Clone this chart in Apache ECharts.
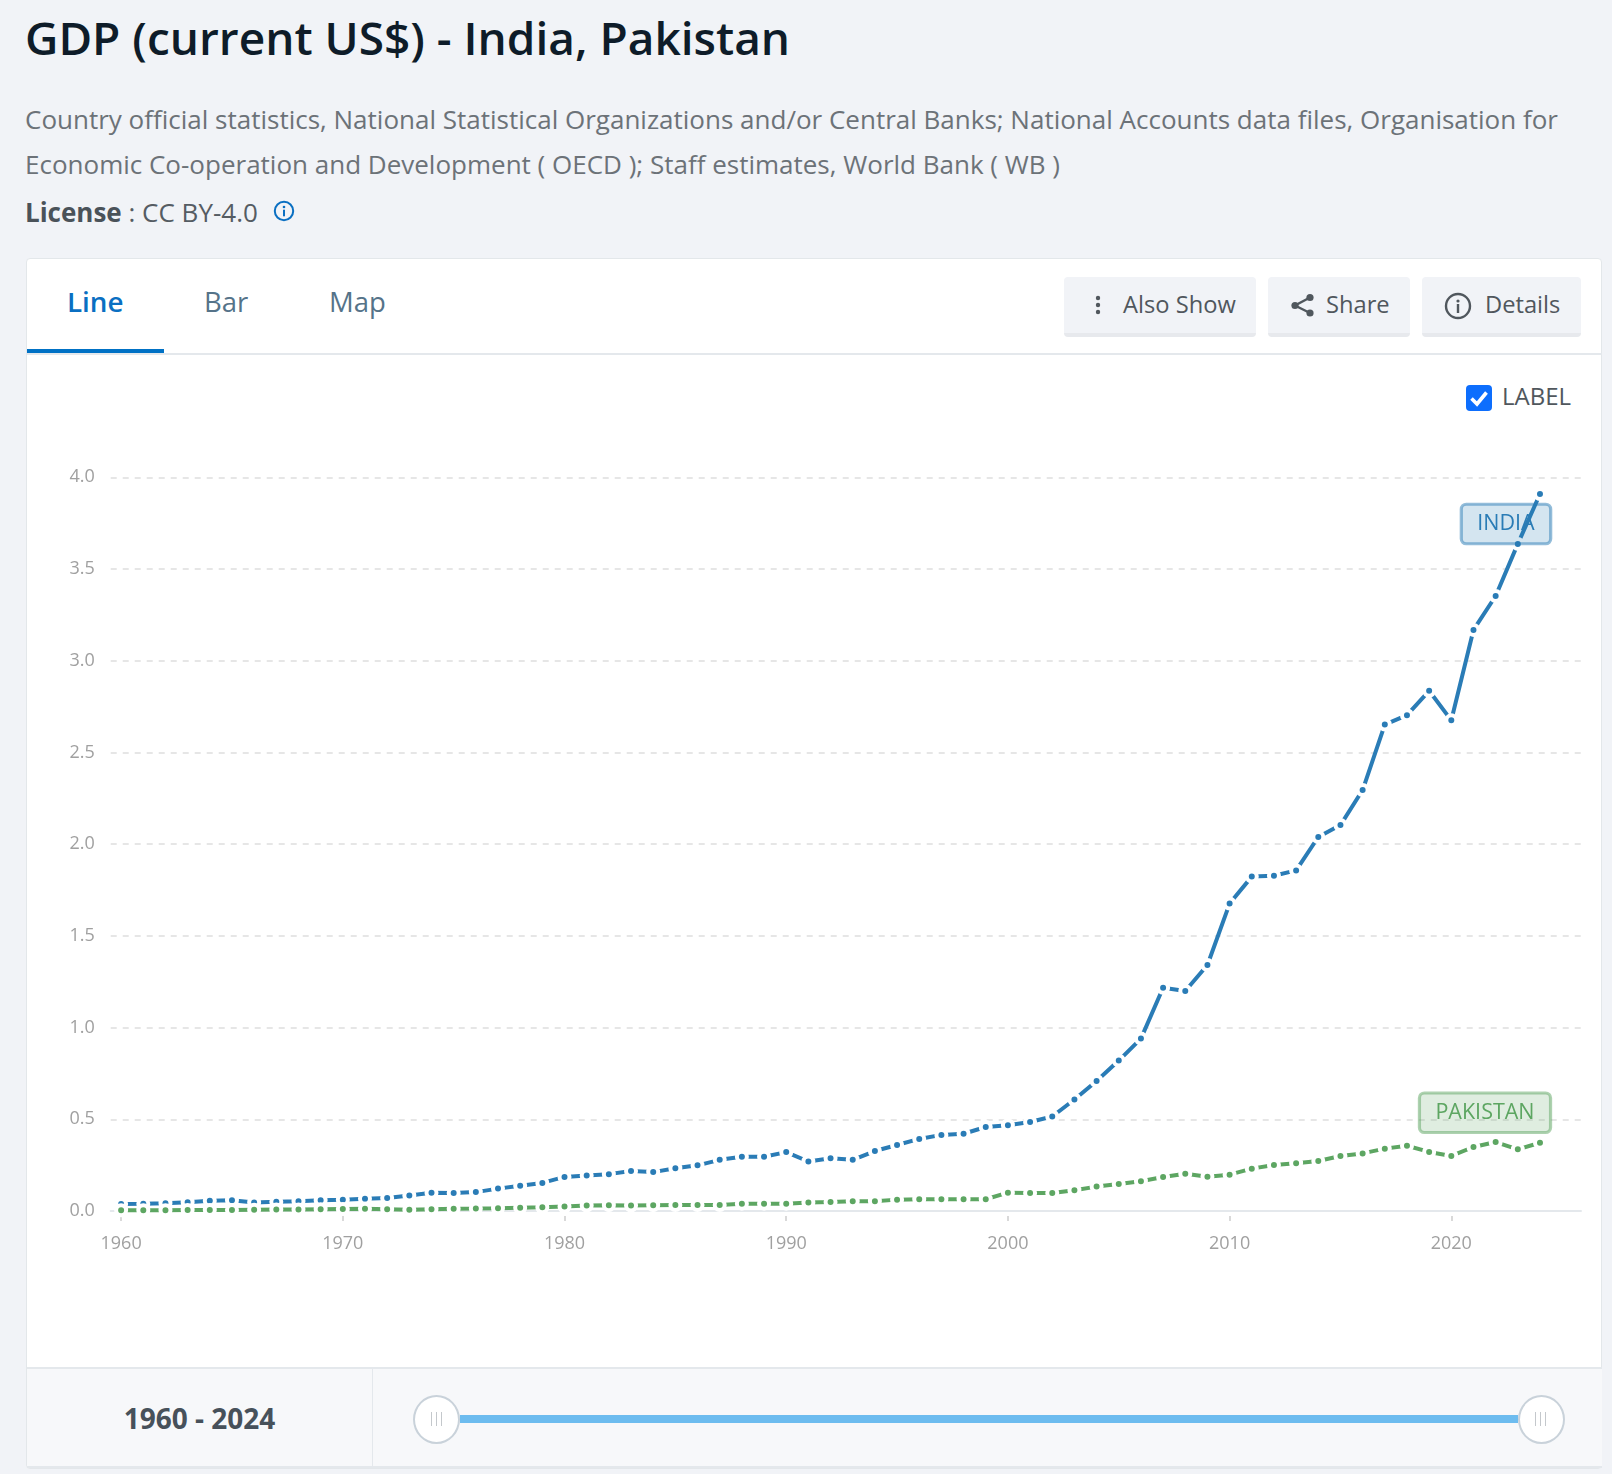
<!DOCTYPE html>
<html><head><meta charset="utf-8">
<style>
*{box-sizing:border-box}
html,body{margin:0;padding:0;width:1612px;height:1474px;overflow:hidden;background:#f1f3f7;font-family:"Open Sans",sans-serif}
.a{position:absolute;white-space:nowrap}
#title{left:25px;top:6px;font-size:46px;line-height:62px;font-weight:600;color:#0e1c29}
.src{left:25px;font-size:26px;line-height:36px;color:#6c7278}
#lic{left:25px;top:194px;font-size:26px;line-height:36px;color:#555c63}
#lic b{font-weight:700;color:#4a5259}
#card{left:26px;top:258px;width:1576px;height:1211px;background:#fff;border:1px solid #e3e7ea;border-radius:4px}
#tabline{left:27px;top:353px;width:1575px;height:2px;background:#e4e8ec}
#under{left:27px;top:349px;width:137px;height:4px;background:#0071c5}
.tab{top:283px;font-size:27.5px;line-height:38px;color:#557389}
.btn{top:277px;height:60px;background:#f1f3f7;border-bottom:4px solid #e7e9ed;border-radius:4px}
.bt{top:286px;font-size:23.7px;line-height:36px;color:#50575d}
#foot{left:27px;top:1367px;width:1575px;height:101px;background:#f7f8fa;border-top:2px solid #e4e8ec;border-bottom:2px solid #e4e8ec}
#fdiv{left:372px;top:1368px;width:1px;height:99px;background:#e4e8ec}
#range{left:27px;width:345px;text-align:center;top:1399px;font-size:28px;line-height:38px;font-weight:700;color:#47515a}
#track{left:460px;top:1415px;width:1058px;height:8px;background:#6dbcef}
.h{top:1395px;width:47px;height:49px;background:#fff;border:2px solid #c9d2da;border-radius:50%}
.g{top:1412px;width:1px;height:14px;background:#c4c8cc}
#chart{position:absolute;left:0;top:0;width:1612px;height:1474px}
</style></head><body>
<div class="a" id="title">GDP (current US$) - India, Pakistan</div>
<div class="a src" style="top:101px">Country official statistics, National Statistical Organizations and/or Central Banks; National Accounts data files, Organisation for</div>
<div class="a src" style="top:146px">Economic Co-operation and Development ( OECD ); Staff estimates, World Bank ( WB )</div>
<div class="a" id="lic"><b>License</b> : CC BY-4.0</div>
<svg class="a" style="left:273px;top:200px" width="22" height="22" viewBox="0 0 22 22"><circle cx="11" cy="11" r="9.2" fill="none" stroke="#0a6fc2" stroke-width="2"/><circle cx="11" cy="7" r="1.3" fill="#0a6fc2"/><rect x="10" y="9.7" width="2" height="6.6" fill="#0a6fc2"/></svg>
<div class="a" id="card"></div>
<div class="a" id="tabline"></div><div class="a" id="under"></div>
<div class="a tab" style="left:67px;top:282px;color:#0a6fc2;font-weight:600;font-size:27.8px">Line</div>
<div class="a tab" style="left:204px">Bar</div>
<div class="a tab" style="left:329px">Map</div>
<div class="a btn" style="left:1064px;width:192px"></div>
<div class="a btn" style="left:1268px;width:142px"></div>
<div class="a btn" style="left:1422px;width:159px"></div>
<svg class="a" style="left:1090px;top:292px" width="16" height="26" viewBox="0 0 16 26"><circle cx="8" cy="6" r="2.2" fill="#50575d"/><circle cx="8" cy="13" r="2.2" fill="#50575d"/><circle cx="8" cy="20" r="2.2" fill="#50575d"/></svg>
<div class="a bt" style="left:1123px">Also Show</div>
<svg class="a" style="left:1289px;top:291px" width="28" height="28" viewBox="0 0 28 28"><path d="M21 6.5L6 14.5L21 22" fill="none" stroke="#50575d" stroke-width="2.4"/><circle cx="21" cy="6.5" r="3.6" fill="#50575d"/><circle cx="6" cy="14.5" r="3.6" fill="#50575d"/><circle cx="21" cy="22" r="3.6" fill="#50575d"/></svg>
<div class="a bt" style="left:1326px">Share</div>
<svg class="a" style="left:1444px;top:292px" width="28" height="28" viewBox="0 0 28 28"><circle cx="14" cy="14" r="12" fill="none" stroke="#50575d" stroke-width="2.4"/><circle cx="14" cy="9" r="1.6" fill="#50575d"/><rect x="12.8" y="12" width="2.4" height="9" fill="#50575d"/></svg>
<div class="a bt" style="left:1485px">Details</div>
<svg class="a" style="left:1466px;top:385px" width="26" height="26" viewBox="0 0 26 26"><rect width="26" height="26" rx="4" fill="#0d6efd"/><path d="M5.5 13.5L11 19L20.5 7.5" fill="none" stroke="#fff" stroke-width="3.6"/></svg>
<div class="a" style="left:1502px;top:380px;font-size:24px;line-height:32px;color:#50575d">LABEL</div>
<div class="a" id="foot"></div><div class="a" id="fdiv"></div>
<div class="a" id="range">1960 - 2024</div>
<div class="a" id="track"></div>
<div class="a h" style="left:413px"></div>
<div class="a g" style="left:431px"></div><div class="a g" style="left:436px"></div><div class="a g" style="left:441px"></div>
<div class="a h" style="left:1518px"></div>
<div class="a g" style="left:1535px"></div><div class="a g" style="left:1540px"></div><div class="a g" style="left:1545px"></div>
<div id="chart"></div>
<script src="https://cdn.jsdelivr.net/npm/echarts@6/dist/echarts.min.js"></script>
<script>
const years = [1960,1961,1962,1963,1964,1965,1966,1967,1968,1969,1970,1971,1972,1973,1974,1975,1976,1977,1978,1979,1980,1981,1982,1983,1984,1985,1986,1987,1988,1989,1990,1991,1992,1993,1994,1995,1996,1997,1998,1999,2000,2001,2002,2003,2004,2005,2006,2007,2008,2009,2010,2011,2012,2013,2014,2015,2016,2017,2018,2019,2020,2021,2022,2023,2024];
const india = [0.038,0.039,0.042,0.048,0.056,0.059,0.046,0.050,0.053,0.058,0.062,0.067,0.071,0.085,0.099,0.098,0.103,0.122,0.138,0.153,0.186,0.193,0.201,0.218,0.212,0.233,0.249,0.279,0.296,0.296,0.321,0.270,0.288,0.279,0.327,0.360,0.393,0.415,0.421,0.458,0.468,0.485,0.515,0.608,0.709,0.820,0.940,1.217,1.199,1.341,1.676,1.823,1.828,1.857,2.039,2.104,2.295,2.652,2.703,2.836,2.675,3.168,3.353,3.637,3.909];
const pakistan = [0.004,0.004,0.004,0.005,0.005,0.006,0.007,0.008,0.008,0.010,0.011,0.012,0.010,0.007,0.010,0.012,0.013,0.015,0.018,0.020,0.024,0.030,0.032,0.030,0.032,0.033,0.033,0.033,0.040,0.040,0.040,0.046,0.049,0.053,0.053,0.062,0.064,0.064,0.064,0.064,0.100,0.098,0.098,0.113,0.133,0.147,0.162,0.185,0.203,0.187,0.198,0.231,0.251,0.260,0.273,0.300,0.314,0.340,0.356,0.322,0.300,0.349,0.376,0.336,0.372];
const xTicks = [1960,1970,1980,1990,2000,2010,2020];
const yMax = 4, yStep = 0.5;
const xMin = 1959.53, xMax = 2025.85;
const blue = '#2a7cb6', green = '#5da662';

function seriesFor(name, vals, color, fill, border, offset, padding){
  const last = vals.length - 1;
  return {
    name, type:'line', showAllSymbol:true, symbol:'circle', symbolSize:10, clip:false,
    lineStyle:{color, width:4}, itemStyle:{color, borderColor:'#fff', borderWidth:4},
    data: vals.map((v,i)=> i===last ? {
      value:[years[i],v],
      label:{show:true, position:'inside', offset, formatter:name, color, fontFamily:'Open Sans', fontSize:21.5, lineHeight:27,
        backgroundColor:fill, borderColor:border, borderWidth:1.6, borderRadius:5, padding}
    } : [years[i],v])
  };
}
const xBase = {type:'value', min:xMin, max:xMax, splitLine:{show:false}};
const chart = echarts.init(document.getElementById('chart'));
chart.setOption({
  animation:false,
  grid:{left:110.7, right:31, top:477.3, bottom:263},
  xAxis:[
    Object.assign({}, xBase, {axisLine:{show:true, lineStyle:{color:'#e4e8ec', width:2}}, axisTick:{show:false}, axisLabel:{show:false}}),
    Object.assign({}, xBase, {position:'bottom', offset:5, axisLine:{show:false},
      axisTick:{show:true, length:5, customValues:xTicks, lineStyle:{color:'#d9d9d9', width:2}},
      axisLabel:{show:true, customValues:xTicks, margin:19, color:'#a0a0a0', fontFamily:'Open Sans', fontSize:18, formatter:v=>String(v)}})
  ],
  yAxis:{type:'value', min:0, max:yMax, interval:yStep,
    axisLine:{show:false}, axisTick:{show:false},
    axisLabel:{margin:16, padding:[6,0,0,0], color:'#a0a0a0', fontFamily:'Open Sans', fontSize:18, formatter:v=>v.toFixed(1)},
    splitLine:{lineStyle:{color:'#e6e6e6', width:2, type:[6,6]}}},
  series:[
    seriesFor('INDIA', india, blue, 'rgba(42,124,182,0.2)', 'rgba(42,124,182,0.5)', [-34,30], [10,16,2.5,16]),
    seriesFor('PAKISTAN', pakistan, green, 'rgba(93,166,98,0.2)', 'rgba(93,166,98,0.5)', [-55,-30], [10,16,2.5,16])
  ]
});
</script>
</body></html>
